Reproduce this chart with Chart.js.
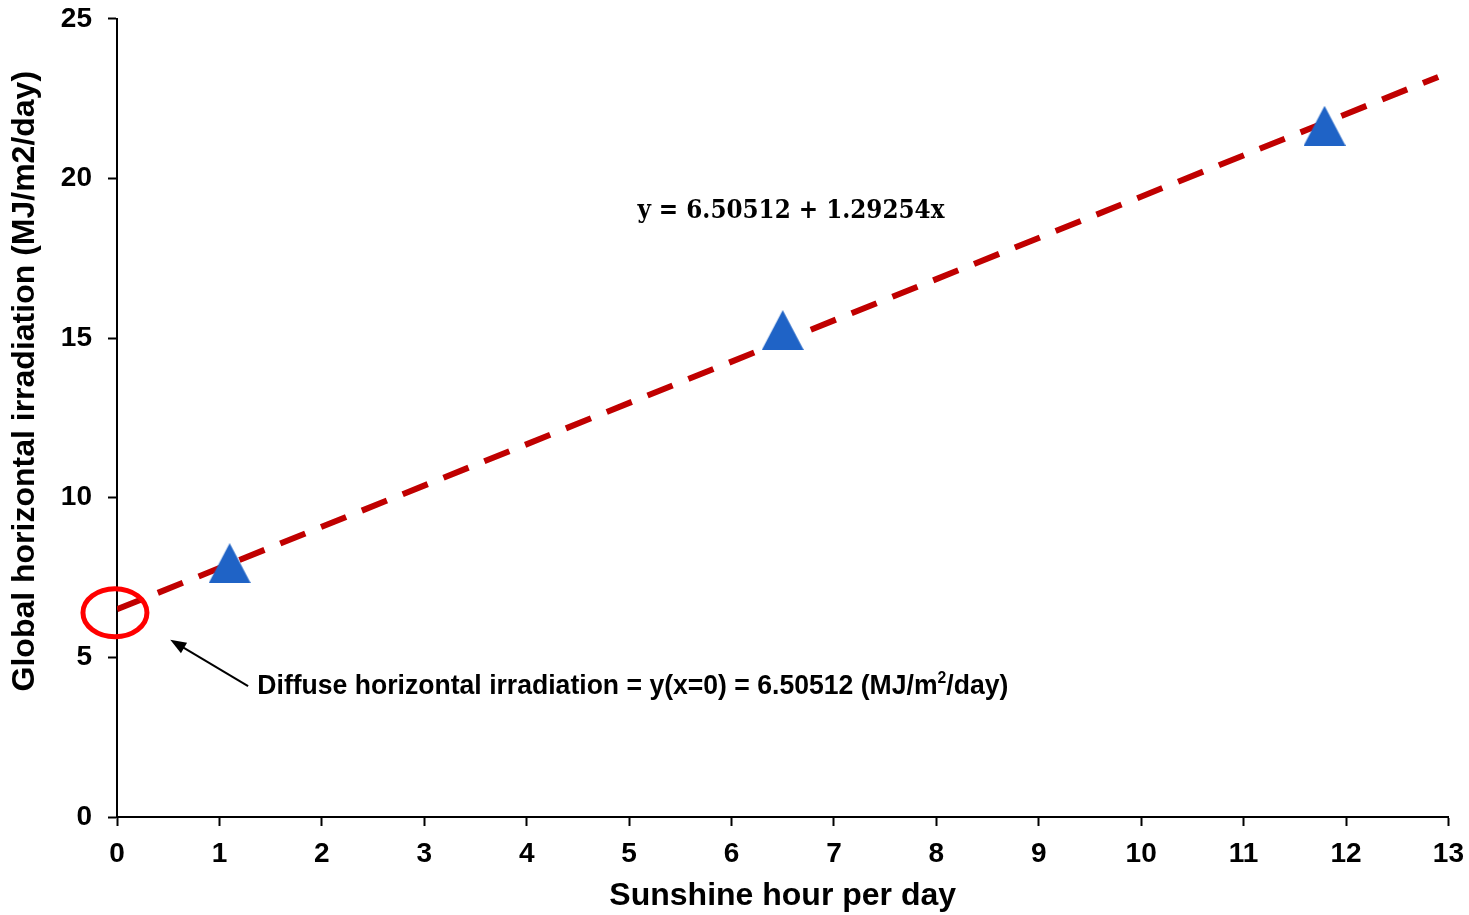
<!DOCTYPE html>
<html>
<head>
<meta charset="utf-8">
<script src="https://cdn.jsdelivr.net/npm/chart.js@4"></script>
<style>
  html, body { margin: 0; padding: 0; background: #fff; overflow: hidden; }
  /* slightly oversized box so the plot area lands where the original has it */
  #wrap { width: 1475px; height: 929px; margin-top: -14px; }
</style>
</head>
<body>
<div id="wrap"><canvas id="sunChart"></canvas></div>
<script>
// measured points (sunshine hours vs global horizontal irradiation)
const sunshineHours = [1.1, 6.5, 11.79];
const globalIrradiation = [7.95, 15.25, 21.65];

// regression line as drawn on the picture (start and end)
const trendX = [0, 12.9];
const trendY = [6.50512, 23.18];

const xTicks = [0, 1, 2, 3, 4, 5, 6, 7, 8, 9, 10, 11, 12, 13];
const yTicks = [0, 5, 10, 15, 20, 25];

const yTitle = "Global horizontal irradiation (MJ/m2/day)";
const equationText = "y = 6.50512 + 1.29254x";
const noteText = ["Diffuse horizontal irradiation = y(x=0) = 6.50512 (MJ/m", "2", "/day)"];

// triangle marker centred on its box, like Excel draws it
const marker = document.createElement("canvas");
marker.width = 42;
marker.height = 40;
(function () {
  const m = marker.getContext("2d");
  m.fillStyle = "#1F63C6";
  m.beginPath();
  m.moveTo(21, 0);
  m.lineTo(42, 40);
  m.lineTo(0, 40);
  m.closePath();
  m.fill();
})();

const annotations = {
  id: "annotations",
  afterDatasetsDraw(chart) {
    const ctx = chart.ctx;
    const xs = chart.scales.x, ys = chart.scales.y;

    // y axis title (sits a little above the axis middle in the original)
    ctx.save();
    ctx.font = "bold 32px 'Liberation Sans', Arial, sans-serif";
    ctx.fillStyle = "#000";
    ctx.textAlign = "center";
    ctx.textBaseline = "middle";
    ctx.translate(25, ys.getPixelForValue(13.65));
    ctx.rotate(-Math.PI / 2);
    ctx.fillText(yTitle, 0, 0);
    ctx.restore();

    // red ellipse around intercept
    ctx.save();
    ctx.strokeStyle = "#FF0000";
    ctx.lineWidth = 5;
    ctx.beginPath();
    ctx.ellipse(xs.getPixelForValue(-0.02), ys.getPixelForValue(6.4), 32, 24, 0, 0, Math.PI * 2);
    ctx.stroke();

    // arrow
    const tipX = xs.getPixelForValue(0.52), tipY = ys.getPixelForValue(5.55);
    const tailX = xs.getPixelForValue(1.28), tailY = ys.getPixelForValue(4.1);
    const ang = Math.atan2(tipY - tailY, tipX - tailX);
    ctx.strokeStyle = "#000";
    ctx.fillStyle = "#000";
    ctx.lineWidth = 2;
    ctx.beginPath();
    ctx.moveTo(tailX, tailY);
    ctx.lineTo(tipX - 10 * Math.cos(ang), tipY - 10 * Math.sin(ang));
    ctx.stroke();
    ctx.beginPath();
    ctx.moveTo(tipX, tipY);
    ctx.lineTo(tipX - 16 * Math.cos(ang) + 6 * Math.sin(ang), tipY - 16 * Math.sin(ang) - 6 * Math.cos(ang));
    ctx.lineTo(tipX - 16 * Math.cos(ang) - 6 * Math.sin(ang), tipY - 16 * Math.sin(ang) + 6 * Math.cos(ang));
    ctx.closePath();
    ctx.fill();

    // note text, condensed like the original
    const mainFont = "bold 27px 'Liberation Sans', Arial, sans-serif";
    const supFont = "bold 16px 'Liberation Sans', Arial, sans-serif";
    const nx = xs.getPixelForValue(1.37), ny = ys.getPixelForValue(4.09);
    ctx.textBaseline = "middle";
    ctx.font = mainFont;
    const w0 = ctx.measureText(noteText[0]).width;
    const w2 = ctx.measureText(noteText[2]).width;
    ctx.font = supFont;
    const w1 = ctx.measureText(noteText[1]).width;
    const sx = 751 / (w0 + w1 + w2);
    ctx.translate(nx, ny);
    ctx.scale(sx, 1);
    ctx.textAlign = "left";
    ctx.font = mainFont;
    ctx.fillText(noteText[0], 0, 0);
    ctx.font = supFont;
    ctx.fillText(noteText[1], w0, -8);
    ctx.font = mainFont;
    ctx.fillText(noteText[2], w0 + w1, 0);
    ctx.restore();

    // regression equation
    ctx.save();
    ctx.font = "bold 26px 'DejaVu Serif', 'Liberation Serif', serif";
    ctx.fillStyle = "#000";
    ctx.textAlign = "center";
    ctx.textBaseline = "middle";
    const ew = ctx.measureText(equationText).width;
    const ex = xs.getPixelForValue(6.58), ey = ys.getPixelForValue(18.97);
    ctx.translate(ex, ey);
    ctx.scale(Math.min(1, 307 / ew), 1);
    ctx.fillText(equationText, 0, 0);
    ctx.restore();
  }
};

const tickFont = { family: "'Liberation Sans', Arial, sans-serif", size: 28, weight: "bold" };
const titleFont = { family: "'Liberation Sans', Arial, sans-serif", size: 32, weight: "bold" };

new Chart(document.getElementById("sunChart"), {
  type: "scatter",
  data: {
    datasets: [
      {
        label: "Measured",
        data: sunshineHours.map((x, i) => ({ x: x, y: globalIrradiation[i] })),
        pointStyle: marker,
        pointRadius: 21,
        pointHoverRadius: 21,
        backgroundColor: "#1F63C6",
        borderColor: "#1F63C6",
        borderWidth: 0,
        order: 1
      },
      {
        label: "Trend",
        type: "line",
        data: trendX.map((x, i) => ({ x: x, y: trendY[i] })),
        borderColor: "#C00000",
        borderWidth: 6,
        borderDash: [27, 17],
        pointRadius: 0,
        fill: false,
        order: 2
      }
    ]
  },
  options: {
    responsive: true,
    maintainAspectRatio: false,
    animation: false,
    layout: { padding: { top: 11, right: 16, left: 0, bottom: 0 } },
    plugins: {
      legend: { display: false },
      tooltip: { enabled: false }
    },
    scales: {
      x: {
        type: "linear",
        min: 0,
        max: 13,
        afterFit: function (scale) { scale.height = 98; },
        afterBuildTicks: function (scale) { scale.ticks = xTicks.map(v => ({ value: v })); },
        ticks: { color: "#000", font: tickFont, padding: 11, maxRotation: 0 },
        grid: { drawOnChartArea: false, color: "#000", tickLength: 9, tickWidth: 2 },
        border: { color: "#000", width: 2 },
        title: {
          display: true,
          text: "Sunshine hour per day",
          color: "#000",
          font: titleFont,
          padding: { top: 0, bottom: 0 }
        }
      },
      y: {
        type: "linear",
        min: 0,
        max: 25,
        afterFit: function (scale) { scale.width = 117; },
        afterBuildTicks: function (scale) { scale.ticks = yTicks.map(v => ({ value: v })); },
        ticks: { color: "#000", font: tickFont, padding: 16 },
        grid: { drawOnChartArea: false, color: "#000", tickLength: 9, tickWidth: 2 },
        border: { color: "#000", width: 2 },
        title: { display: false }
      }
    }
  },
  plugins: [annotations]
});
</script>
</body>
</html>
